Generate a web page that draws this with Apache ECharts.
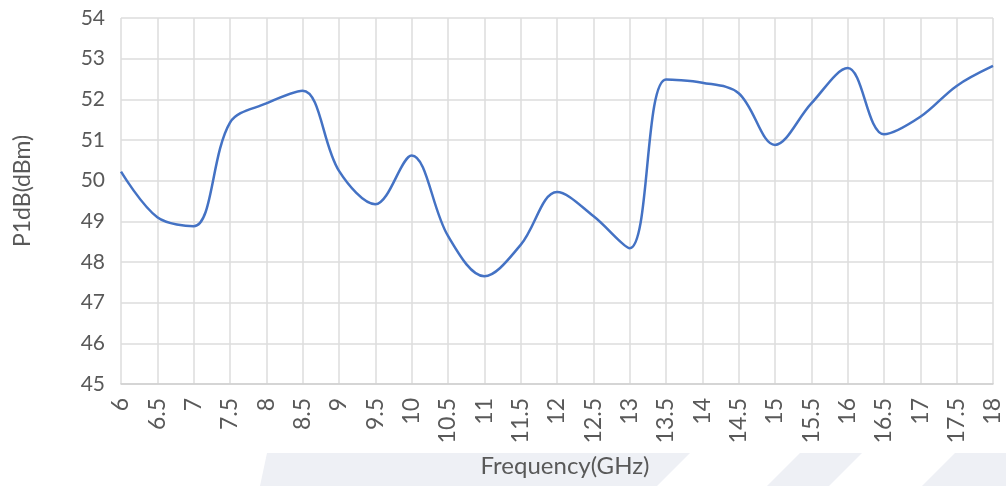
<!DOCTYPE html>
<html>
<head>
<meta charset="utf-8">
<script src="https://cdn.jsdelivr.net/npm/echarts@6/dist/echarts.min.js"></script>
<style>
html,body{margin:0;padding:0;background:#fff;}
#c{width:1006px;height:486px;}
</style>
</head>
<body>
<div id="c"></div>
<script>
const frequencies = ['6','6.5','7','7.5','8','8.5','9','9.5','10','10.5','11','11.5','12','12.5','13','13.5','14','14.5','15','15.5','16','16.5','17','17.5','18'];
const p1db = [50.22,49.1,48.88,51.43,51.9,52.21,50.24,49.42,50.62,48.64,47.65,48.42,49.72,49.13,48.34,52.49,52.41,52.15,50.88,51.9,52.77,51.14,51.57,52.33,52.82];
const yTicks = {min:45, max:54, interval:1};

const chart = echarts.init(document.getElementById('c'));
const fontFam = 'Lato, "Open Sans", sans-serif';
chart.setOption({
  backgroundColor:'#ffffff',
  animation:false,
  graphic:[
    {type:'polygon', z:-10, shape:{points:[[267,453],[690,453],[657,486],[260,486]]}, style:{fill:'#eef0f5'}},
    {type:'polygon', z:-10, shape:{points:[[800,453],[862,453],[829,486],[767,486]]}, style:{fill:'#eef0f5'}},
    {type:'polygon', z:-10, shape:{points:[[955,453],[1006,453],[1006,486],[922,486]]}, style:{fill:'#eef0f5'}}
  ],
  grid:{left:121, right:13, top:18, bottom:102, containLabel:false, outerBoundsMode:'none'},
  xAxis:{
    type:'category',
    data:frequencies,
    boundaryGap:false,
    name:'Frequency(GHz)',
    nameLocation:'middle',
    nameGap:70,
    nameTextStyle:{fontSize:24, color:'#595959', fontFamily:fontFam, padding:[0,0,0,16]},
    axisLine:{show:true, lineStyle:{color:'#d0d0d0', width:1.5}},
    axisTick:{show:false},
    axisLabel:{rotate:90, fontSize:23, color:'#595959', fontFamily:fontFam, margin:14, interval:0},
    splitLine:{show:true, lineStyle:{color:'#dcdcdc', width:1.5}}
  },
  yAxis:{
    type:'value',
    min:yTicks.min, max:yTicks.max, interval:yTicks.interval,
    name:'P1dB(dBm)',
    nameLocation:'middle',
    nameGap:87,
    nameTextStyle:{fontSize:23, color:'#595959', fontFamily:fontFam, padding:[0,0,0,20]},
    axisLine:{show:false},
    axisTick:{show:false},
    axisLabel:{fontSize:21, color:'#595959', fontFamily:fontFam, margin:16},
    splitLine:{show:true, lineStyle:{color:'#dcdcdc', width:1.5}}
  },
  series:[{
    type:'line',
    data:p1db,
    smooth:0.35,
    showSymbol:false,
    lineStyle:{color:'#4472C4', width:2.5},
    itemStyle:{color:'#4472C4'}
  }]
});
</script>
</body>
</html>
